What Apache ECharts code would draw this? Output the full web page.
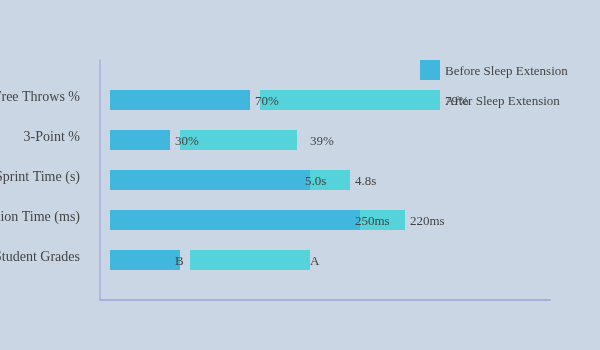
<!DOCTYPE html>
<html>
<head>
<meta charset="utf-8">
<script src="https://cdn.jsdelivr.net/npm/echarts@6/dist/echarts.min.js"></script>
<style>
  html, body { margin: 0; padding: 0; background: #cbd6e4; }
  #chart { width: 600px; height: 350px; }
</style>
</head>
<body>
<div id="chart"></div>
<script>
// Metrics compared before and after the sleep-extension programme
const categories = ['Free Throws %', '3-Point %', 'Sprint Time (s)', 'Reaction Time (ms)', 'Student Grades'];
const beforeLabels = ['70%', '30%', '5.0s', '250ms', 'B'];
const afterLabels = ['79%', '39%', '4.8s', '220ms', 'A'];

// Bar extents on the relative performance scale
const beforeScore = [140, 60, 200, 250, 70];
const afterStart = [150, 70, 200, 250, 80];
const afterScore = [330, 187, 240, 295, 200];

// Horizontal nudges for the value labels
const beforeLabelShift = [0, 0, -10, -10, -10];
const afterLabelShift = [0, 8, 0, 0, -5];

const BEFORE_COLOR = '#41b7dd';
const AFTER_COLOR = '#54d3da';
const AXIS_COLOR = '#a6afe0';
const TEXT_COLOR = '#444';
const FONT = '"Liberation Serif", "DejaVu Serif", serif';

const chart = echarts.init(document.getElementById('chart'), null, { renderer: 'canvas' });

const valueLabel = (texts, shifts) => (v, i) => ({
  value: v,
  label: {
    show: true,
    position: 'right',
    distance: 5,
    offset: [shifts[i], 2],
    formatter: texts[i],
    color: TEXT_COLOR,
    fontSize: 13,
    fontFamily: FONT
  }
});

chart.setOption({
  backgroundColor: '#cbd6e4',
  animation: false,
  legend: {
    data: ['Before Sleep Extension', 'After Sleep Extension'],
    orient: 'vertical',
    left: 420,
    top: 60,
    padding: 0,
    itemWidth: 20,
    itemHeight: 20,
    itemGap: 10,
    icon: 'rect',
    formatter: (name) => '{t|' + name + '}',
    textStyle: {
      rich: { t: { color: TEXT_COLOR, fontSize: 13, fontFamily: FONT, padding: [4, 0, 0, 0] } }
    }
  },
  grid: [
    { left: 100, top: 80, width: 450, height: 200, containLabel: false, outerBoundsMode: 'none' },
    { left: 100, top: 60, width: 450, height: 240, containLabel: false, outerBoundsMode: 'none' }
  ],
  xAxis: [
    { gridIndex: 0, type: 'value', min: -10, max: 440, show: false },
    {
      gridIndex: 1, type: 'value', min: 0, max: 1,
      axisLine: { show: true, onZero: false, lineStyle: { color: AXIS_COLOR, width: 2 } },
      axisTick: { show: false }, axisLabel: { show: false }, splitLine: { show: false }
    }
  ],
  yAxis: [
    {
      gridIndex: 0, type: 'category', inverse: true, data: categories,
      axisLine: { show: false }, axisTick: { show: false }, splitLine: { show: false },
      axisLabel: {
        margin: 20,
        formatter: (v) => '{t|' + v + '}',
        rich: {
          t: { color: TEXT_COLOR, fontSize: 14, fontFamily: FONT, padding: [0, 0, 6, 0] }
        }
      }
    },
    {
      gridIndex: 1, type: 'value', min: 0, max: 1,
      axisLine: { show: true, onZero: false, lineStyle: { color: AXIS_COLOR, width: 1.5 } },
      axisTick: { show: false }, axisLabel: { show: false }, splitLine: { show: false }
    }
  ],
  series: [
    {
      name: 'Before Sleep Extension',
      type: 'bar',
      xAxisIndex: 0, yAxisIndex: 0,
      barWidth: 20,
      barGap: '-100%',
      itemStyle: { color: BEFORE_COLOR },
      data: beforeScore.map(valueLabel(beforeLabels, beforeLabelShift)),
      z: 3
    },
    {
      name: 'offset',
      type: 'bar',
      xAxisIndex: 0, yAxisIndex: 0,
      stack: 'after',
      barWidth: 20,
      barGap: '-100%',
      silent: true,
      itemStyle: { color: 'transparent' },
      data: afterStart,
      z: 2
    },
    {
      name: 'After Sleep Extension',
      type: 'bar',
      xAxisIndex: 0, yAxisIndex: 0,
      stack: 'after',
      barWidth: 20,
      barGap: '-100%',
      itemStyle: { color: AFTER_COLOR },
      data: afterScore.map((end, i) => end - afterStart[i]).map(valueLabel(afterLabels, afterLabelShift)),
      z: 2
    }
  ]
});
</script>
</body>
</html>
